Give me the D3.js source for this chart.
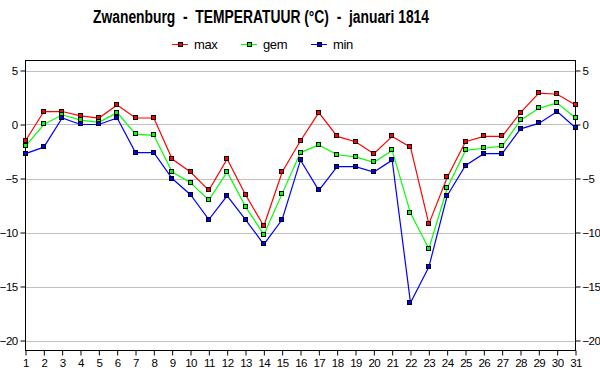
<!DOCTYPE html>
<html><head><meta charset="utf-8">
<script src="https://cdn.jsdelivr.net/npm/d3@7"></script>
<style>body{margin:0;background:#fff}svg{display:block}text{white-space:pre}</style>
</head><body>
<svg id="c" width="600" height="390"></svg>
<script>
const days = d3.range(1, 32);
const maxT = [-1.5,1.2,1.2,0.8,0.6,1.8,0.6,0.6,-3.2,-4.4,-6.1,-3.2,-6.5,-9.4,-4.4,-1.5,1.1,-1.1,-1.6,-2.7,-1.1,-2.1,-9.2,-4.9,-1.6,-1.1,-1.1,1.1,2.9,2.8,1.8];
const gemT = [-2.0,0.0,0.9,0.4,0.2,1.1,-0.9,-1.0,-4.4,-5.4,-7.0,-4.4,-7.6,-10.2,-6.4,-2.6,-1.9,-2.8,-3.0,-3.5,-2.4,-8.2,-11.5,-5.9,-2.4,-2.2,-2.0,0.4,1.5,2.0,0.6];
const minT = [-2.7,-2.1,0.6,0.0,0.0,0.6,-2.6,-2.6,-5.0,-6.5,-8.8,-6.6,-8.8,-11.1,-8.8,-3.3,-6.1,-3.9,-3.9,-4.4,-3.3,-16.5,-13.2,-6.6,-3.8,-2.7,-2.7,-0.4,0.1,1.2,-0.3];
const yTicks = [5,0,-5,-10,-15,-20];
const seriesNames = ["max","gem","min"];
const seriesColors = ["#ff0000","#00ff00","#0000ff"];
const seriesData = [maxT, gemT, minT];
const title = "Zwanenburg  -  TEMPERATUUR (°C)  -  januari 1814";

const svg = d3.select("#c");
const font = "Arial, 'Liberation Sans', sans-serif";
const L = 25.5, R = 575.5, T = 60.5, B = 350.5;
const x = d3.scaleLinear().domain([1,31]).range([L,R]);
const y = d3.scaleLinear().domain([5,-20]).range([70.5,340.5]);

// gridlines
svg.append("g").selectAll("line").data(yTicks).join("line")
  .attr("x1",L).attr("x2",R).attr("y1",d=>Math.round(y(d))+0.5).attr("y2",d=>Math.round(y(d))+0.5)
  .attr("stroke","#c0c0c0").attr("stroke-width",1);

// frame
svg.append("rect").attr("x",L).attr("y",T).attr("width",R-L).attr("height",B-T)
  .attr("fill","none").attr("stroke","#000").attr("stroke-width",1);

const yL = d3.axisLeft(y).tickValues(yTicks).tickSize(5).tickPadding(3).tickFormat(d3.format("d"));
const yR = d3.axisRight(y).tickValues(yTicks).tickSize(5).tickPadding(2).tickFormat(d3.format("d"));
const xB = d3.axisBottom(x).tickValues(days).tickSize(5).tickPadding(3).tickFormat(d3.format("d"));
function style(g){
  g.select(".domain").remove();
  g.selectAll("line").attr("stroke","#000");
  g.selectAll("text").attr("font-family",font).attr("font-size",11.5).attr("letter-spacing","-0.6px").attr("fill","#000");
}
svg.append("g").attr("transform",`translate(${L},0)`).call(yL).call(style);
svg.append("g").attr("transform",`translate(${R},0)`).call(yR).call(style);
svg.append("g").attr("transform",`translate(0,${B})`).call(xB).call(style);

const line = d3.line().x((d,i)=>x(days[i])).y(d=>y(d));
seriesData.forEach((s,k)=>{
  svg.append("path").datum(s).attr("d",line).attr("fill","none")
    .attr("stroke",seriesColors[k]).attr("stroke-width",1.2);
});
seriesData.forEach((s,k)=>{
  svg.append("g").selectAll("rect").data(s).join("rect")
    .attr("x",(d,i)=>Math.round(x(days[i]))-2.5).attr("y",d=>Math.round(y(d))-2.5)
    .attr("width",4).attr("height",4)
    .attr("fill",seriesColors[k]).attr("stroke","#000").attr("stroke-width",1);
});

// title
svg.append("text").attr("x",93).attr("y",23)
  .attr("font-family",font).attr("font-size",18).attr("font-weight","bold")
  .attr("textLength",336).attr("lengthAdjust","spacingAndGlyphs").text(title);

// legend
const legX = [172,241,311];
seriesNames.forEach((n,k)=>{
  const g = svg.append("g");
  g.append("line").attr("x1",legX[k]).attr("x2",legX[k]+16).attr("y1",44.5).attr("y2",44.5)
    .attr("stroke",seriesColors[k]).attr("stroke-width",1);
  g.append("rect").attr("x",legX[k]+6.5).attr("y",42.5).attr("width",4).attr("height",4)
    .attr("fill",seriesColors[k]).attr("stroke","#000");
  g.append("text").attr("x",legX[k]+22).attr("y",49).attr("font-family",font).attr("font-size",13)
    .attr("letter-spacing","-0.4px").text(n);
});
</script>
</body></html>
